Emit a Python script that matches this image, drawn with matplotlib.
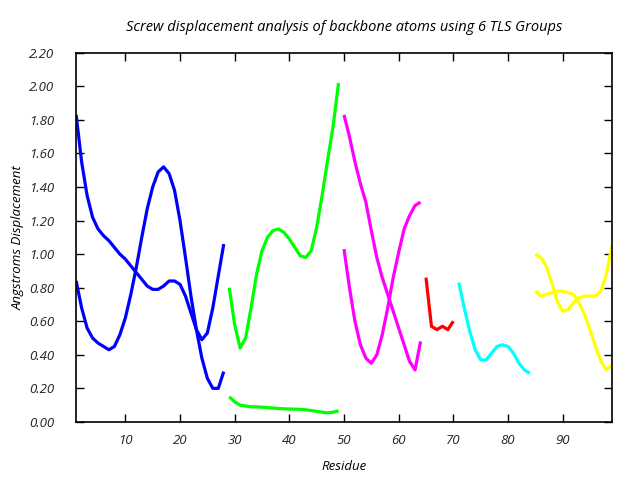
import numpy as np
import matplotlib
matplotlib.use("Agg")
import matplotlib.pyplot as plt

# TLS group 1 (residues 1-28)
res_g1 = list(range(1, 29))
g1_a = [1.83, 1.55, 1.35, 1.22, 1.15, 1.11, 1.08, 1.04, 1.00, 0.97, 0.93, 0.89, 0.85, 0.81,
        0.79, 0.79, 0.81, 0.84, 0.84, 0.82, 0.75, 0.65, 0.55, 0.49, 0.53, 0.68, 0.87, 1.06]
g1_b = [0.84, 0.68, 0.56, 0.50, 0.47, 0.45, 0.43, 0.45, 0.52, 0.62, 0.76, 0.92, 1.10, 1.27,
        1.40, 1.49, 1.52, 1.48, 1.38, 1.20, 0.98, 0.75, 0.55, 0.38, 0.26, 0.20, 0.20, 0.30]

# TLS group 2 (residues 29-49)
res_g2 = list(range(29, 50))
g2_a = [0.80, 0.58, 0.44, 0.50, 0.68, 0.88, 1.02, 1.10, 1.14, 1.15, 1.13, 1.09, 1.04, 0.99,
        0.98, 1.02, 1.16, 1.35, 1.56, 1.76, 2.02]
g2_b = [0.15, 0.12, 0.10, 0.095, 0.09, 0.09, 0.088, 0.085, 0.083, 0.08, 0.078, 0.077, 0.076,
        0.075, 0.072, 0.068, 0.063, 0.058, 0.054, 0.058, 0.066]

# TLS group 3 (residues 50-64)
res_g3 = list(range(50, 65))
g3_a = [1.83, 1.70, 1.55, 1.42, 1.31, 1.14, 0.98, 0.86, 0.76, 0.66, 0.56, 0.46, 0.36, 0.31, 0.48]
g3_b = [1.03, 0.80, 0.60, 0.46, 0.38, 0.35, 0.40, 0.52, 0.68, 0.86, 1.01, 1.15, 1.23, 1.29, 1.31]

# TLS group 4 (residues 65-70)
res_g4 = list(range(65, 71))
g4_a = [0.86, 0.57, 0.55, 0.57, 0.55, 0.60]

# TLS group 5 (residues 71-84)
res_g5 = list(range(71, 85))
g5_a = [0.83, 0.68, 0.54, 0.43, 0.37, 0.37, 0.41, 0.45, 0.46, 0.45, 0.41, 0.35, 0.31, 0.29]

# TLS group 6 (residues 85-99)
res_g6 = list(range(85, 100))
g6_a = [1.00, 0.98, 0.93, 0.83, 0.72, 0.66, 0.67, 0.71, 0.74, 0.75, 0.75, 0.75, 0.78, 0.88, 1.05]
g6_b = [0.78, 0.75, 0.76, 0.77, 0.78, 0.78, 0.77, 0.76, 0.71, 0.64, 0.55, 0.45, 0.36, 0.31, 0.34]

groups = [
    (res_g1, [g1_a, g1_b], "#0000ff"),
    (res_g2, [g2_a, g2_b], "#00ff00"),
    (res_g3, [g3_a, g3_b], "#ff00ff"),
    (res_g4, [g4_a], "#ff0000"),
    (res_g5, [g5_a], "#00ffff"),
    (res_g6, [g6_a, g6_b], "#ffff00"),
]

x_ticks = [10, 20, 30, 40, 50, 60, 70, 80, 90]
y_ticks = np.arange(0, 2.21, 0.2)

plt.rcParams['font.family'] = ['Open Sans', 'DejaVu Sans']
plt.rcParams['font.style'] = 'italic'
plt.rcParams['font.size'] = 9.5

fig = plt.figure(figsize=(6.4, 4.8), dpi=100)
ax = fig.add_axes([0.119, 0.121, 0.837, 0.769])

for res, series, color in groups:
    for vals in series:
        ax.plot(res, vals, color=color, linewidth=2.3, solid_capstyle='butt')

ax.set_xlim(1, 99)
ax.set_ylim(0, 2.2)
ax.set_xticks(x_ticks)
ax.set_yticks(y_ticks)
ax.set_yticklabels([f"{v:.2f}" for v in y_ticks])
ax.tick_params(direction='in', length=6, width=1, top=True, right=True, colors='black',
               labelcolor='#222222')
ax.tick_params(axis='x', pad=9)
ax.tick_params(axis='y', pad=16)
for sp in ax.spines.values():
    sp.set_linewidth(1.2)

ax.set_title("Screw displacement analysis of backbone atoms using 6 TLS Groups",
             fontsize=10.5, pad=16)
ax.set_xlabel("Residue", labelpad=9)
ax.set_ylabel("Angstroms Displacement", labelpad=3)

fig.savefig("out.png", dpi=100)
